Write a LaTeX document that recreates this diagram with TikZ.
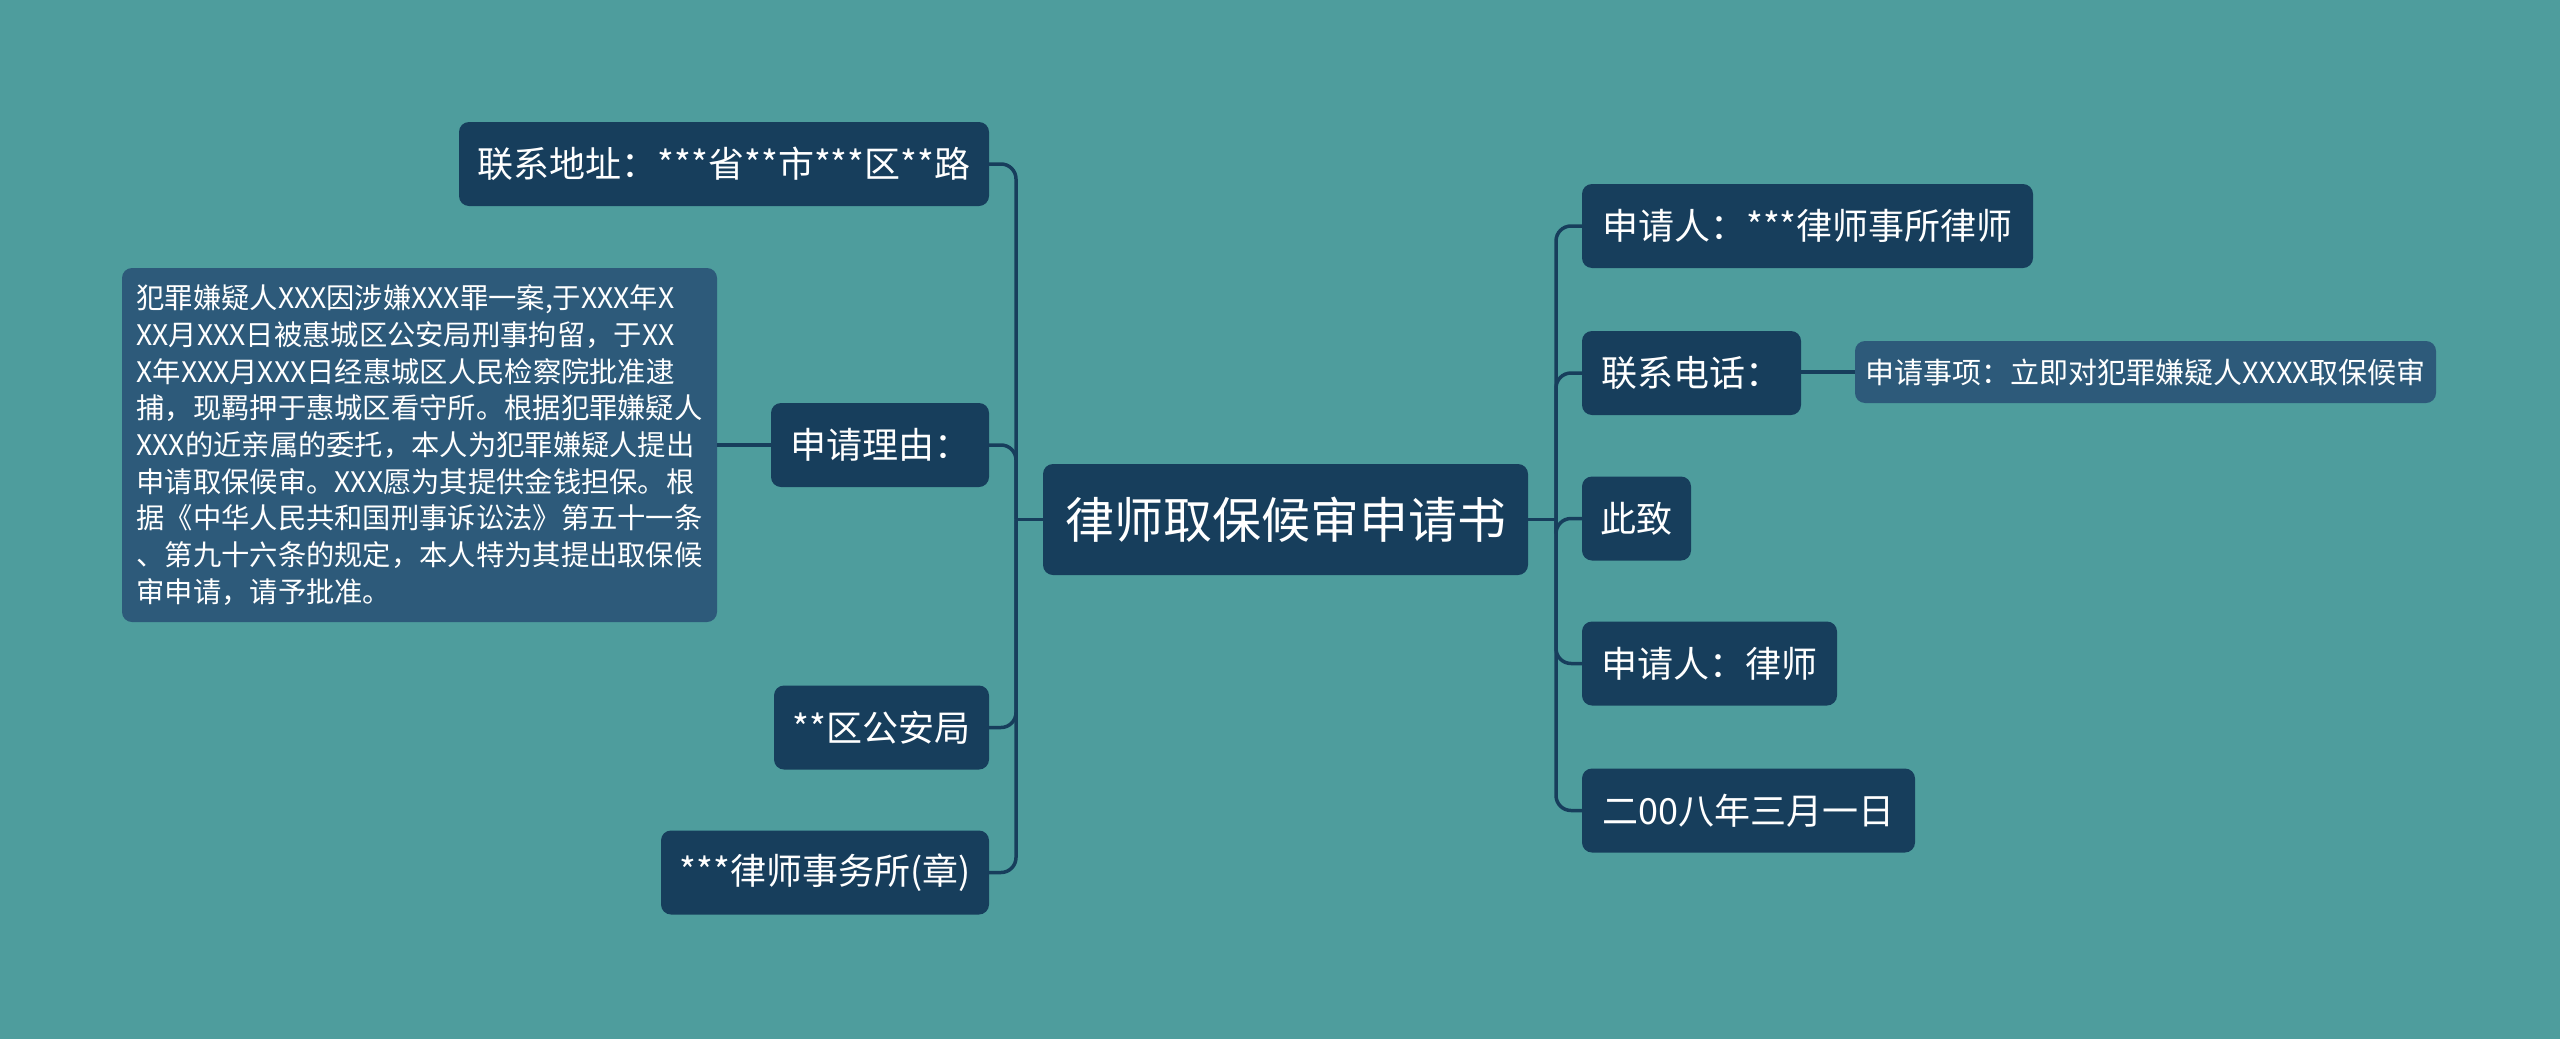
\documentclass[tikz,border=0pt]{standalone}
\usepackage{fontspec}
\setmainfont{Noto Sans CJK SC}
\definecolor{bgteal}{HTML}{4E9D9D}
\definecolor{nodedark}{HTML}{173E5C}
\definecolor{nodelight}{HTML}{2D5A7A}
\definecolor{linedark}{HTML}{173E5C}
\tikzset{
  base/.style={rounded corners=10pt, text=white, inner sep=0pt, align=center},
  topic/.style={base, fill=nodedark, minimum height=84pt, font=\fontsize{36}{43}\selectfont},
  detail/.style={base, fill=nodelight, font=\fontsize{29}{36.7}\selectfont},
  central/.style={base, fill=nodedark, font=\fontsize{49}{58}\selectfont},
  conn/.style={draw=linedark, line width=3.5pt},
  elbow/.style={conn, rounded corners=15pt}
}
\begin{document}
\begin{tikzpicture}[x=1pt,y=-1pt]
\fill[bgteal] (0,0) rectangle (2560,1039);
\useasboundingbox (0,0) rectangle (2560,1039);

% central
\node[central, minimum width=485pt, minimum height=111pt] (c) at (1285.5,519.5) {律师取保候审申请书};

% left side
\node[topic, minimum width=530pt] (addr) at (724,164) {联系地址：***省**市***区**路};
\node[topic, minimum width=218pt] (reason) at (880,445) {申请理由：};
\node[detail, font=\fontsize{28.3}{36.7}\selectfont, minimum width=595pt, minimum height=354pt, align=left] (txt) at (419.5,445) {犯罪嫌疑人XXX因涉嫌XXX罪一案,于XXX年X\\XX月XXX日被惠城区公安局刑事拘留，于XX\\X年XXX月XXX日经惠城区人民检察院批准逮\\捕，现羁押于惠城区看守所。根据犯罪嫌疑人\\XXX的近亲属的委托，本人为犯罪嫌疑人提出\\申请取保候审。XXX愿为其提供金钱担保。根\\据《中华人民共和国刑事诉讼法》第五十一条\\、第九十六条的规定，本人特为其提出取保候\\审申请，请予批准。};
\node[topic, minimum width=215pt] (police) at (881.5,727.5) {**区公安局};
\node[topic, minimum width=328pt] (firm) at (825,872.5) {***律师事务所(章)};

% right side
\node[topic, minimum width=451pt] (r1) at (1807.5,226) {申请人：***律师事所律师};
\node[topic, minimum width=219pt] (r2) at (1691.5,373) {联系电话：};
\node[detail, minimum width=581pt, minimum height=62pt] (r2c) at (2145.5,372) {申请事项：立即对犯罪嫌疑人XXXX取保候审};
\node[topic, minimum width=109pt] (r3) at (1636.5,518.5) {此致};
\node[topic, minimum width=255pt] (r4) at (1709.5,663.5) {申请人：律师};
\node[topic, minimum width=333pt] (r5) at (1748.5,810.5) {二00八年三月一日};

% junctions
\coordinate (lj) at (1016,519.5);
\coordinate (rj) at (1556,519.5);

% left connectors
\draw[conn] (c.west) -- (lj);
\draw[elbow] (lj) |- (addr.east);
\draw[elbow] (lj) |- (reason.east);
\draw[elbow] (lj) |- (police.east);
\draw[elbow] (lj) |- (firm.east);
\draw[conn] (reason.west) -- (txt.east |- reason.west);

% right connectors
\draw[conn] (c.east) -- (rj);
\draw[elbow] (rj) |- (r1.west);
\draw[elbow] (rj) |- (r2.west);
\draw[elbow] (rj) |- (r3.west);
\draw[elbow] (rj) |- (r4.west);
\draw[elbow] (rj) |- (r5.west);
\draw[conn] (r2.east |- r2c.west) -- (r2c.west);
\end{tikzpicture}
\end{document}
